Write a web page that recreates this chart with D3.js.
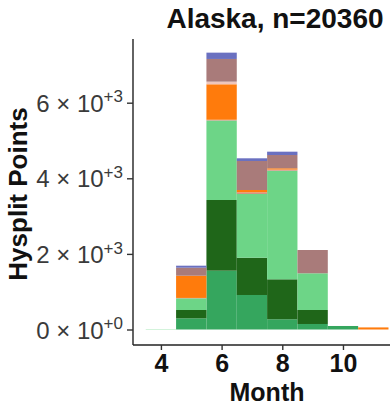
<!DOCTYPE html>
<html>
<head>
<meta charset="utf-8">
<script src="https://cdn.jsdelivr.net/npm/d3@7"></script>
<style>
  html, body { margin: 0; padding: 0; background: #fff; }
  svg { display: block; }
  text { font-family: "Liberation Sans", Arial, sans-serif; }
</style>
</head>
<body>
<svg id="chart" width="390" height="408"></svg>
<script>
// Monthly Hysplit point counts, stacked by trajectory class
const months = [4, 5, 6, 7, 8, 9, 10, 11];
const classA = [0, 296, 1556, 913, 270, 146, 93, 0];     // bottom layer
const classB = [0, 220, 1870, 986, 1058, 370, 0, 0];
const classC = [8, 309, 2103, 1686, 2873, 971, 0, 0];
const classD = [0, 10, 20, 45, 30, 0, 0, 0];
const classE = [0, 588, 938, 60, 34, 0, 0, 55];
const classF = [0, 0, 70, 0, 0, 0, 0, 0];
const classG = [0, 212, 600, 768, 351, 616, 0, 0];
const classH = [0, 53, 167, 71, 88, 0, 0, 0];         // top layer
const yTicks = [0, 2000, 4000, 6000];
const xTicks = [4, 6, 8, 10];
const titleText = "Alaska, n=20360";

const keys = ["A", "B", "C", "D", "E", "F", "G", "H"];
const seriesVals = { A: classA, B: classB, C: classC, D: classD, E: classE, F: classF, G: classG, H: classH };
const colors = {
  A: "#35a65e", B: "#1f6619", C: "#6dd587", D: "#d49284",
  E: "#ff7b0c", F: "#efc6bd", G: "#a97b7a", H: "#6a70c0"
};

const rows = months.map((m, i) => {
  const r = { month: m };
  keys.forEach(k => { r[k] = seriesVals[k][i]; });
  return r;
});

const svg = d3.select("#chart");
const panel = { left: 133, right: 390, top: 39, bottom: 345 };

const x = d3.scaleLinear().domain([3.08, 11.55]).range([panel.left, panel.right]);
const y = d3.scaleLinear().domain([-410, 7685]).range([panel.bottom, panel.top]);

const stacked = d3.stack().keys(keys)(rows);

svg.append("g")
  .selectAll("g")
  .data(stacked)
  .join("g")
  .attr("fill", d => colors[d.key])
  .selectAll("rect")
  .data(d => d.filter(p => p[1] - p[0] > 0))
  .join("rect")
  .attr("x", p => x(p.data.month - 0.5))
  .attr("width", p => x(p.data.month + 0.5) - x(p.data.month - 0.5))
  .attr("y", p => y(p[1]))
  .attr("height", p => y(p[0]) - y(p[1]));

// axes
const expLabel = v => {
  if (v === 0) return { mant: "0", exp: "+0" };
  const e = Math.floor(Math.log10(v));
  return { mant: String(v / Math.pow(10, e)), exp: "+" + e };
};

const yAxis = svg.append("g")
  .attr("transform", `translate(${panel.left},0)`)
  .call(d3.axisLeft(y).tickValues(yTicks).tickSize(6).tickFormat(""));
yAxis.select(".domain").attr("d", `M0,${panel.top}V${panel.bottom}`).attr("stroke", "#222").attr("stroke-width", 1.4);
yAxis.selectAll(".tick line").attr("stroke", "#333").attr("stroke-width", 1.4);
yAxis.selectAll(".tick").each(function(v) {
  const l = expLabel(v);
  const t = d3.select(this).append("text")
    .attr("x", -10).attr("y", 0).attr("dy", "0.36em")
    .attr("text-anchor", "end")
    .attr("fill", "#3a3a3a")
    .style("font-size", "24px");
  t.append("tspan").text(l.mant + " \u00d7 10");
  t.append("tspan").attr("dy", "-0.55em").style("font-size", "17px").text(l.exp);
});

const xAxis = svg.append("g")
  .attr("transform", `translate(0,${panel.bottom})`)
  .call(d3.axisBottom(x).tickValues(xTicks).tickSize(5).tickFormat(""));
xAxis.select(".domain").attr("d", `M${panel.left},0H${panel.right}`).attr("stroke", "#222").attr("stroke-width", 1.4);
xAxis.selectAll(".tick line").attr("stroke", "#333").attr("stroke-width", 1.4);
xAxis.selectAll(".tick").append("text")
  .attr("y", 27)
  .attr("text-anchor", "middle")
  .attr("fill", "#111")
  .style("font-size", "25px")
  .style("font-weight", "bold")
  .text(d => d);

// titles
svg.append("text")
  .attr("x", 275).attr("y", 28)
  .attr("text-anchor", "middle")
  .style("font-size", "28px").style("font-weight", "bold").attr("fill", "#111")
  .text(titleText);

svg.append("text")
  .attr("x", 267).attr("y", 401)
  .attr("text-anchor", "middle")
  .style("font-size", "25px").style("font-weight", "bold").attr("fill", "#111")
  .text("Month");

svg.append("text")
  .attr("transform", "translate(27,194) rotate(-90)")
  .attr("text-anchor", "middle")
  .style("font-size", "26px").style("font-weight", "bold").attr("fill", "#111")
  .text("Hysplit Points");
</script>
</body>
</html>
